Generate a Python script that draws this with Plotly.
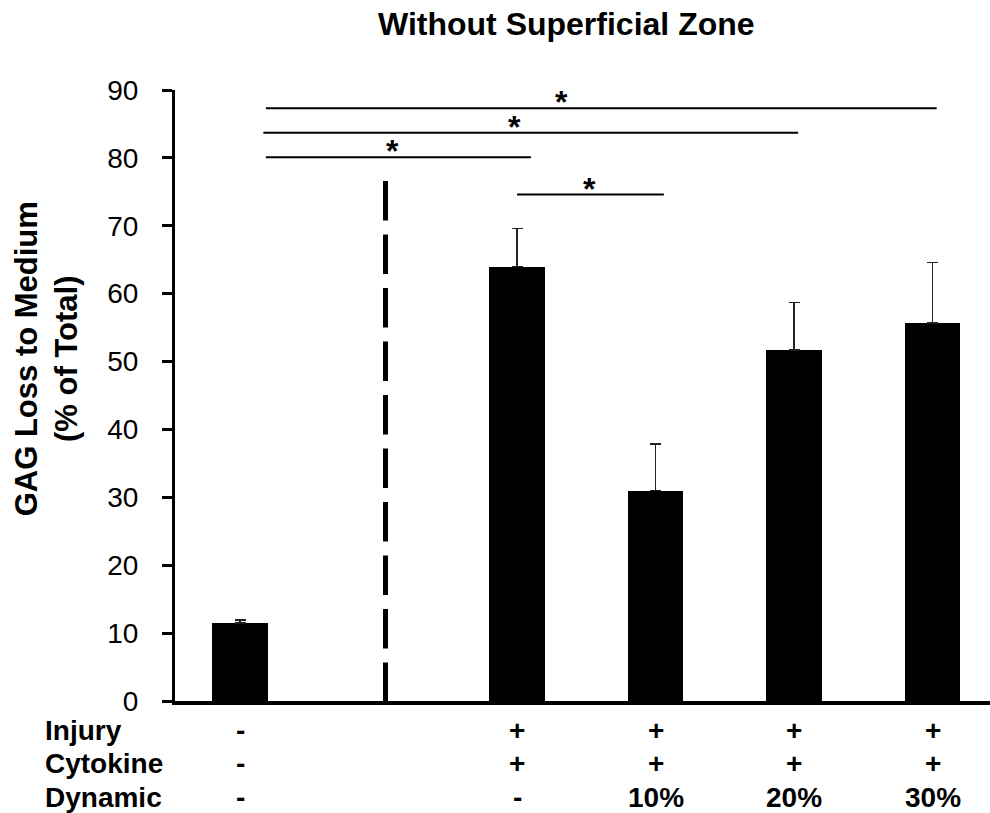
import plotly.graph_objects as go

# ---- data ----
bar_pos = [0, 2, 3, 4, 5]
gag_loss = [11.5, 64.0, 31.0, 51.7, 55.7]
gag_err = [0.4, 5.6, 6.9, 7.0, 8.9]

divider_pos = 1.05
divider_top = 76.6

row_names = ["Injury", "Cytokine", "Dynamic"]
injury = ["-", "+", "+", "+", "+"]
cytokine = ["-", "+", "+", "+", "+"]
dynamic = ["-", "-", "10%", "20%", "30%"]

# significance brackets: start, end, level, star x
sig_x0 = [0.186, 0.168, 0.186, 2.0]
sig_x1 = [5.03, 4.03, 2.10, 3.06]
sig_y = [87.3, 83.7, 80.1, 74.6]
sig_star_x = [2.32, 1.98, 1.10, 2.52]

yticks = [0, 10, 20, 30, 40, 50, 60, 70, 80, 90]

FONT = "Liberation Sans, Arial, sans-serif"

fig = go.Figure()
fig.add_trace(go.Bar(
    x=bar_pos, y=gag_loss, width=0.4,
    marker=dict(color="black", line=dict(width=0)),
    error_y=dict(type="data", array=gag_err, arrayminus=[0]*len(gag_err),
                 symmetric=False, color="#222222", thickness=1.6, width=5.5),
    showlegend=False,
))

shapes = []
shapes.append(dict(type="line", xref="x", yref="y", x0=divider_pos, x1=divider_pos,
                   y0=divider_top, y1=0,
                   line=dict(color="black", width=5, dash="39.5px,14px")))
for x0, x1, yv in zip(sig_x0, sig_x1, sig_y):
    shapes.append(dict(type="line", xref="x", yref="y", x0=x0, x1=x1, y0=yv, y1=yv,
                       line=dict(color="black", width=2)))

annotations = []
for sx, yv in zip(sig_star_x, sig_y):
    annotations.append(dict(x=sx, y=yv, xref="x", yref="y", text="<b>*</b>",
                            showarrow=False, xanchor="center", yanchor="bottom",
                            yshift=-14, font=dict(family=FONT, size=32, color="black")))

# table below axis
row_y = [-0.0475, -0.103, -0.158]
for name, ry in zip(row_names, row_y):
    annotations.append(dict(x=-0.1623, y=ry, xref="paper", yref="paper",
                            text="<b>%s</b>" % name, showarrow=False,
                            xanchor="left", yanchor="middle",
                            font=dict(family=FONT, size=28, color="black")))
for vals, ry in zip([injury, cytokine, dynamic], row_y):
    for xp, v in zip(bar_pos, vals):
        annotations.append(dict(x=xp, y=ry, xref="x", yref="paper",
                                text="<b>%s</b>" % v, showarrow=False,
                                xanchor="center", yanchor="middle",
                                font=dict(family=FONT, size=28, color="black")))

annotations.append(dict(x=-0.1577, y=0.56, xref="paper", yref="paper",
                        text="<b>GAG Loss to Medium<br>(% of Total)</b>",
                        textangle=-90, showarrow=False, xanchor="center",
                        yanchor="middle", align="center",
                        font=dict(family=FONT, size=31, color="black")))

fig.update_layout(
    width=990, height=813,
    margin=dict(l=175, r=0, t=90, b=112),
    paper_bgcolor="white", plot_bgcolor="white",
    title=dict(text="<b>Without Superficial Zone</b>", x=0.572, y=0.971,
               xanchor="center", yanchor="middle",
               font=dict(family=FONT, size=32, color="black")),
    shapes=shapes, annotations=annotations,
    xaxis=dict(range=[-0.47, 5.415], showline=True, linecolor="black", linewidth=3.5,
               showticklabels=False, ticks="", showgrid=False, zeroline=False),
    yaxis=dict(range=[0, 90], tickvals=yticks, showline=True, linecolor="black",
               linewidth=3, ticks="outside", ticklen=10, tickwidth=3, tickcolor="black",
               showgrid=False, zeroline=False, ticklabelstandoff=18,
               tickfont=dict(family=FONT, size=28, color="black")),
    bargap=0,
)

fig.write_html("out.html")
